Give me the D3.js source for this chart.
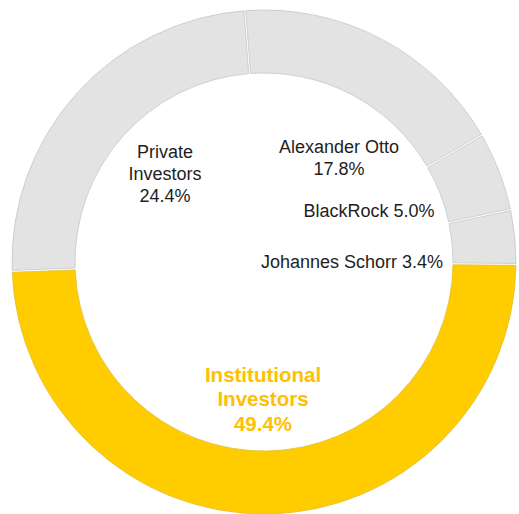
<!DOCTYPE html>
<html>
<head>
<meta charset="utf-8">
<script src="https://cdn.jsdelivr.net/npm/d3@7"></script>
<style>
  html, body { margin: 0; padding: 0; background: #fff; }
  svg { display: block; }
</style>
</head>
<body>
<svg id="chart" width="519" height="514"></svg>
<script>
// Shareholder structure (percent of shares)
const holders = ["Alexander Otto", "BlackRock", "Johannes Schorr", "Institutional Investors", "Private Investors"];
const shares = [17.8, 5.0, 3.4, 49.4, 24.4];
const highlight = ["Institutional Investors"];

// Label text lines per holder; "%" marks where the share value goes
const labelLines = [
  ["Alexander Otto", "%"],
  ["BlackRock %"],
  ["Johannes Schorr %"],
  ["Institutional", "Investors", "%"],
  ["Private", "Investors", "%"]
];

// Label placement inside the ring, relative to the centre
const labelLayout = [
  { dx: 75, dy: -109, lh: 22 },
  { dx: 105, dy: -45, lh: 22 },
  { dx: 88, dy: 5.5, lh: 22 },
  { dx: -1, dy: 119.5, lh: 24.5 },
  { dx: -99, dy: -104.5, lh: 22 }
];

const width = 519, height = 514;
const cx = 264, cy = 262;
const outerR = 252, innerR = 189;
const start = -0.076;

const grey = "#e3e3e3", yellow = "#ffcc00", labelYellow = "#ffc000";

const svg = d3.select("#chart");
const g = svg.append("g").attr("transform", `translate(${cx},${cy})`);

const data = holders.map((h, i) => ({ name: h, value: shares[i], idx: i }));

const pie = d3.pie()
  .sort(null)
  .value(d => d.value)
  .startAngle(start)
  .endAngle(start + 2 * Math.PI)
  .padAngle(0.006);

const arc = d3.arc().innerRadius(innerR).outerRadius(outerR);

g.selectAll("path.slice")
  .data(pie(data))
  .join("path")
  .attr("class", "slice")
  .attr("d", arc)
  .attr("fill", d => highlight.includes(d.data.name) ? yellow : grey)
  .attr("stroke", d => highlight.includes(d.data.name) ? "#e0c040" : "#c6c6c6")
  .attr("stroke-width", 0.8);

const fmt = v => v.toFixed(1) + "%";

data.forEach((d, i) => {
  const lay = labelLayout[i];
  const isHi = highlight.includes(d.name);
  const t = g.append("text")
    .attr("text-anchor", "middle")
    .attr("font-family", "'Liberation Sans', Arial, sans-serif")
    .attr("font-size", isHi ? 20.5 : 18)
    .attr("font-weight", isHi ? "bold" : "normal")
    .attr("fill", isHi ? labelYellow : "#1e1e1e");
  labelLines[i].forEach((line, j) => {
    t.append("tspan")
      .attr("x", lay.dx)
      .attr("y", lay.dy + j * lay.lh)
      .text(line.replace("%", fmt(d.value)));
  });
});
</script>
</body>
</html>
